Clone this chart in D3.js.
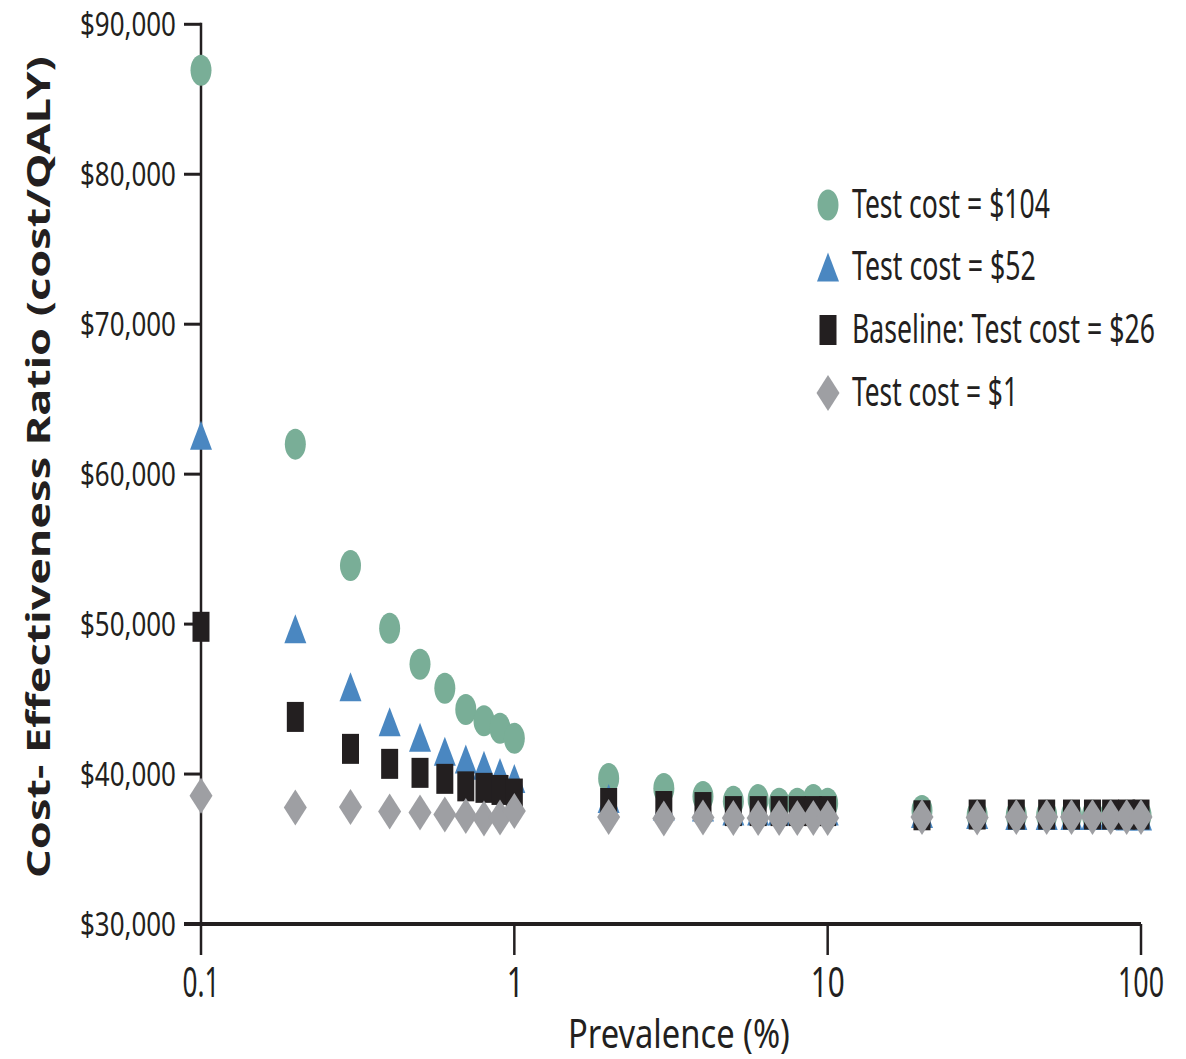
<!DOCTYPE html>
<html>
<head>
<meta charset="utf-8">
<script src="https://cdn.jsdelivr.net/npm/d3@7"></script>
<style>
  html, body { margin: 0; padding: 0; background: #fff; }
  svg { display: block; }
  text { font-family: "Noto Sans", "Open Sans", "DejaVu Sans", sans-serif; fill: #231f20; }
</style>
</head>
<body>
<svg id="chart" width="1186" height="1059"></svg>
<script>
// ---- data ----
const prevalence = [0.1,0.2,0.3,0.4,0.5,0.6,0.7,0.8,0.9,1,
                    2,3,4,5,6,7,8,9,10,
                    20,30,40,50,60,70,80,90,100];
const cost104 = [86930,62000,53900,49720,47320,45720,44310,43550,43050,42380,
                 39710,39040,38510,38180,38310,38050,38050,38310,38050,
                 37570,37250,37250,37250,37250,37250,37250,37250,37250];
const cost52  = [62600,49690,45820,43480,42450,41520,41010,40580,40110,39710,
                 38370,37870,37800,37530,37530,37530,37530,37530,37530,
                 37370,37300,37240,37240,37240,37240,37240,37200,37200];
const cost26  = [49820,43810,41680,40680,40080,39680,39180,39080,38940,38700,
                 38070,37870,37800,37530,37530,37530,37530,37530,37530,
                 37250,37300,37300,37300,37300,37300,37300,37300,37300];
const cost1   = [38550,37770,37800,37500,37440,37300,37200,37040,37100,37530,
                 37130,37040,37100,37070,37070,37070,37070,37070,37070,
                 37130,37100,37130,37130,37130,37130,37130,37130,37130];
const seriesNames = ["Test cost = $104","Test cost = $52","Baseline: Test cost = $26","Test cost = $1"];
const yTicks = [30000,40000,50000,60000,70000,80000,90000];
const xTicks = [0.1,1,10,100];
const xTickLabels = ["0.1","1","10","100"];
const yTitle = "Cost- Effectiveness Ratio (cost/QALY)";
const xTitle = "Prevalence (%)";

// ---- layout ----
const svg = d3.select("#chart");
const ink = "#231f20";
const x = d3.scaleLog().domain([0.1,100]).range([201,1141]);
const y = d3.scaleLinear().domain([30000,90000]).range([924,24.3]);

// condensed text: place text so that it spans [left, left+width] with baseline at by
function fitText(sel, left, by, width, rotate) {
  sel.each(function(d, i) {
    const t = d3.select(this);
    const L = this.getComputedTextLength();
    const w = typeof width === "function" ? width(d, i) : width;
    const lx = typeof left === "function" ? left(d, i) : left;
    const yy = typeof by === "function" ? by(d, i) : by;
    const s = w / L;
    t.attr("transform", `translate(${lx},${yy})${rotate ? " rotate(-90)" : ""} scale(${s},1)`);
  });
}

// marker shapes (wide x tall)
const shapes = {
  circle: (w,h) => { const a=w/2,b=h/2; return `M${-a},0A${a},${b} 0 1,0 ${a},0A${a},${b} 0 1,0 ${-a},0Z`; },
  triangle: (w,h) => `M0,${-h/2}L${w/2},${h/2}L${-w/2},${h/2}Z`,
  square: (w,h) => `M${-w/2},${-h/2}H${w/2}V${h/2}H${-w/2}Z`,
  diamond: (w,h) => `M0,${-h/2}L${w/2},0L0,${h/2}L${-w/2},0Z`
};
const series = [
  {name: seriesNames[0], values: cost104, color: "#79ae97", shape: "circle",   w: 21, h: 31},
  {name: seriesNames[1], values: cost52,  color: "#4a87c1", shape: "triangle", w: 22, h: 29},
  {name: seriesNames[2], values: cost26,  color: ink,       shape: "square",   w: 17, h: 30},
  {name: seriesNames[3], values: cost1,   color: "#9e9fa3", shape: "diamond",  w: 23, h: 36}
];

// ---- axes ----
svg.append("line").attr("x1",184).attr("x2",x(100)).attr("y1",924).attr("y2",924)
  .attr("stroke",ink).attr("stroke-width",4);
svg.append("line").attr("x1",x(0.1)).attr("x2",x(0.1)).attr("y1",y(90000)-1.5).attr("y2",955)
  .attr("stroke",ink).attr("stroke-width",2.5);
svg.selectAll(".ytick").data(yTicks).join("line")
  .attr("x1",184).attr("x2",x(0.1)).attr("y1",d=>y(d)).attr("y2",d=>y(d))
  .attr("stroke",ink).attr("stroke-width",3);
const fmt = d3.format("$,");
svg.selectAll(".ylab").data(yTicks).join("text")
  .attr("font-size",33).text(d=>fmt(d))
  .call(fitText, 80, d=>y(d)+12, 96);
svg.selectAll(".xtick").data(xTicks.slice(1)).join("line")
  .attr("x1",d=>x(d)).attr("x2",d=>x(d)).attr("y1",924).attr("y2",955)
  .attr("stroke",ink).attr("stroke-width",2.5);
const xLabW = [37,17,34,46];
svg.selectAll(".xlab").data(xTicks).join("text")
  .attr("font-size",42).text((d,i)=>xTickLabels[i])
  .call(fitText, (d,i)=>x(d)-xLabW[i]/2 + (i===1?1:0), 997, (d,i)=>xLabW[i]);
// titles
svg.append("text").attr("font-size",40).text(xTitle)
  .call(fitText, 568, 1048, 222);
svg.append("text").attr("font-size",32).attr("font-weight","bold").text(yTitle)
  .call(fitText, 50, 878, 822, true);

// ---- marks ----
series.forEach(s => {
  svg.append("g").selectAll("path").data(prevalence).join("path")
    .attr("transform",(d,i)=>`translate(${x(d)},${y(s.values[i])})`)
    .attr("d",shapes[s.shape](s.w,s.h))
    .attr("fill",s.color);
});

// ---- legend ----
const legY = [205,267,330,393];
const legW = [198,184,303,166];
const leg = svg.append("g");
series.forEach((s,i) => {
  leg.append("path").attr("transform",`translate(828,${legY[i]})`)
    .attr("d",shapes[s.shape](s.w,s.h)).attr("fill",s.color);
  leg.append("text").attr("font-size",40).text(s.name)
    .call(fitText, 852, legY[i]+13, legW[i]);
});
</script>
</body>
</html>
